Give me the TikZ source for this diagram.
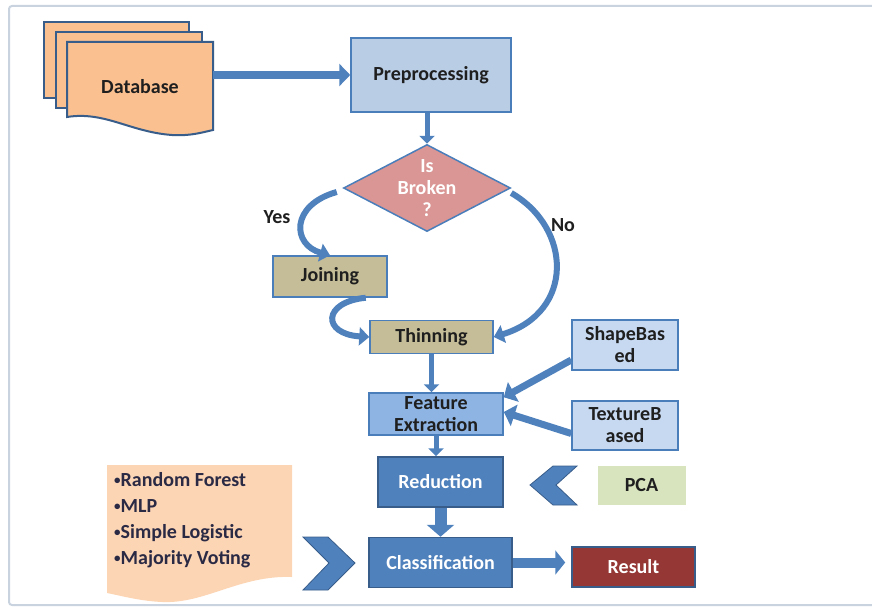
\documentclass[tikz,border=0pt]{standalone}
\usepackage{fontspec}
\setmainfont{Carlito}
\usetikzlibrary{arrows.meta, shapes.geometric}

\definecolor{arrowblue}{HTML}{4F81BD}
\definecolor{boxline}{HTML}{4A7EBB}
\definecolor{darkline}{HTML}{385D8A}
\definecolor{darktext}{HTML}{1F1F1F}
\definecolor{listtext}{HTML}{2B2A45}
\definecolor{dbfill}{HTML}{FAC090}
\definecolor{listfill}{HTML}{FCD5B5}
\definecolor{prepfill}{HTML}{B9CDE5}
\definecolor{pinkfill}{HTML}{D99694}
\definecolor{khaki}{HTML}{C4BD97}
\definecolor{featfill}{HTML}{8EB4E3}
\definecolor{palefill}{HTML}{C6D9F1}
\definecolor{pcafill}{HTML}{D7E4BD}
\definecolor{resultred}{HTML}{953735}
\definecolor{framegray}{HTML}{C9D3E0}

\newcommand{\listdot}{{\fontsize{13}{13}\selectfont\raisebox{1.5pt}{•}}}

\begin{document}
\begin{tikzpicture}[x=1pt, y=-1pt]
    \tikzstyle{every node} = [font=\fontsize{20}{22}\selectfont\bfseries, text=darktext, inner sep=0pt]
    \tikzstyle{lightbox} = [draw=boxline, line width=1.5pt, align=center]
    \tikzstyle{darkbox} = [draw=darkline, line width=1.5pt, fill=arrowblue, text=white]
    \tikzstyle{blockarrow} = [draw=arrowblue, line width=8pt, -{Triangle[length=11pt, width=22pt]}]
    \tikzstyle{thinarrow} = [draw=arrowblue, line width=5pt, -{Triangle[length=8pt, width=15pt]}]
    \tikzstyle{curvedarrow} = [draw=arrowblue, line width=6pt, -{Triangle[length=10pt, width=18pt]}]
    \tikzstyle{sheet} = [draw=darkline, line width=2pt, fill=dbfill]

    \useasboundingbox (0,0) rectangle (872,610);

    % frame
    \draw [framegray, line width=2pt, rounded corners=3pt] (890,6) -- (9,6) -- (9,605) -- (890,605);

    % database stack
    \draw [sheet] (44,22) rectangle (189,98);
    \draw [sheet] (56,32) rectangle (202,108);
    \draw [sheet] (67,42) -- (213,42) -- (213,130)
        .. controls (200,133) and (190,136) .. (172,135)
        .. controls (130,132) and (105,111) .. (67,117) -- cycle;
    \node (db) [minimum width=146pt, minimum height=90pt] at (140,87) {Database};

    \node (prep) [lightbox, fill=prepfill, minimum width=160pt, minimum height=74pt] at (431,75) {Preprocessing};
    \node (broken) [diamond, draw=boxline, line width=1.5pt, fill=pinkfill,
        minimum width=167pt, minimum height=87pt] at (427,188) {};
    \node (brokentext) [text=white, align=center] at (broken) {Is\\Broken\\?};
    \node (yes) at (277,217) {Yes};
    \node (no) at (563,225) {No};
    \node (joining) [lightbox, fill=khaki, minimum width=114pt, minimum height=41pt] at (330,276.5) {Joining};
    \node (thinning) [lightbox, fill=khaki, minimum width=123pt, minimum height=33pt] at (431.5,337) {Thinning};
    \node (feat) [lightbox, fill=featfill, minimum width=134pt, minimum height=42pt] at (436,414) {Feature\\Extraction};
    \node (shape) [lightbox, fill=palefill, minimum width=106pt, minimum height=50pt] at (625,345) {ShapeBas\\ed};
    \node (texture) [lightbox, fill=palefill, minimum width=106pt, minimum height=49pt] at (625,425.5) {TextureB\\ased};
    \node (red) [darkbox, minimum width=125pt, minimum height=50pt] at (440.5,482) {Reduction};
    \node (pca) [fill=pcafill, minimum width=88pt, minimum height=39pt] at (641.5,485.5) {PCA};
    \node (class) [darkbox, minimum width=143pt, minimum height=50pt] at (440.5,562.5) {Classification};
    \node (result) [darkbox, fill=resultred, minimum width=123pt, minimum height=40pt] at (633.5,567) {Result};

    % classifier list
    \fill [listfill] (107,465) -- (292,465) -- (292,577)
        .. controls (240,575) and (205,604) .. (162,602)
        .. controls (140,601) and (122,596) .. (107,593) -- cycle;
    \node (algos) [anchor=west, align=left, text=listtext, font=\fontsize{20}{26}\selectfont\bfseries]
        at (114,520) {\listdot Random Forest\\\listdot MLP\\\listdot Simple Logistic\\\listdot Majority Voting};

    % chevrons
    \fill [arrowblue, draw=darkline, line width=0.8pt]
        (303,537) -- (328,537) -- (355,563) -- (328,590) -- (303,590) -- (329,563) -- cycle;
    \fill [arrowblue, draw=darkline, line width=0.8pt]
        (577,466) -- (553,466) -- (530,485) -- (553,505) -- (577,505) -- (556,485) -- cycle;

    % connectors
    \draw [blockarrow] (db.east |- prep.west) -- (prep.west);
    \draw [thinarrow] (prep.south -| broken.north) -- (broken.north);
    \draw [curvedarrow] ([xshift=-6pt, yshift=-4pt]broken.west) .. controls (290,205) and (292,245) .. (joining.north);
    \draw [curvedarrow] ([yshift=-5pt]broken.east) .. controls (572,228) and (575,312) .. (thinning.east);
    \draw [curvedarrow] ([xshift=-22pt]joining.south east) .. controls (322,302) and (322,334) .. (thinning.west);
    \draw [thinarrow] (thinning.south) -- (thinning.south |- feat.north);
    \draw [blockarrow, line width=7pt] ([yshift=-15pt]shape.west) -- ([yshift=-5pt]feat.north east);
    \draw [blockarrow, line width=7pt] ([yshift=-8pt]texture.west) -- ([yshift=2pt]feat.east);
    \draw [thinarrow] (feat.south) -- (feat.south |- red.north);
    \draw [blockarrow, line width=12pt, -{Triangle[length=12pt, width=27pt]}] (red.south) -- (red.south |- class.north);
    \draw [blockarrow, line width=10pt, shorten >=6pt, -{Triangle[length=10pt, width=24pt]}] (class.east) -- (class.east -| result.west);
\end{tikzpicture}
\end{document}
